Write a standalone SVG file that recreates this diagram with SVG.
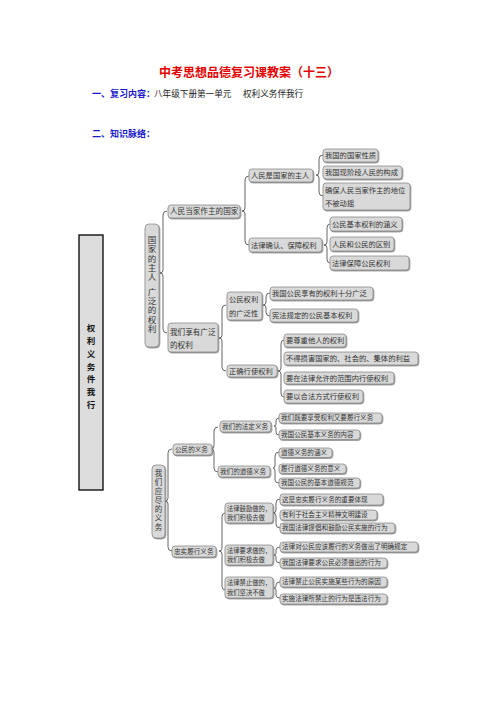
<svg xmlns="http://www.w3.org/2000/svg" width="496" height="702" viewBox="0 0 496 702">
<style>
text{font-family:"Noto Sans CJK SC","Noto Sans CJK TC",sans-serif;fill:#333}
.title{font-size:12px;font-weight:bold;fill:#e30000}
.hd{font-size:9px;font-weight:bold;fill:#1a1acc}
.body{font-size:8.6px;fill:#222}
.n rect{fill:#d9d9d9;stroke:#8c8c8c;stroke-width:0.8;filter:url(#sh)}
.s1 text{font-size:7.3px}
.s2 text{font-size:6.6px}
.vt{writing-mode:vertical-rl;text-orientation:upright}
.br{fill:none;stroke:#555;stroke-width:0.9}
#root rect{fill:#dcdcdc;stroke:#000;stroke-width:1.3}
#root text{font-size:8.5px;font-weight:bold;fill:#111}
</style>
<defs>
<filter id="sh" x="-20%" y="-20%" width="140%" height="160%">
<feDropShadow dx="0.8" dy="1" stdDeviation="0.5" flood-color="#777" flood-opacity="0.8"/>
</filter>
</defs>
<rect width="496" height="702" fill="#fff"/>
<text class="title" x="249" y="77" text-anchor="middle">中考思想品德复习课教案（十三）</text>
<text class="hd" x="92" y="97">一、复习内容：</text>
<text class="body" y="97"><tspan x="154">八年级下册第一单元</tspan><tspan x="243">权利义务伴我行</tspan></text>
<text class="hd" x="92" y="137">二、知识脉络：</text>

<g id="root">
<rect x="79" y="235" width="24" height="255"/>
<text class="vt" x="91" y="323.8" style="letter-spacing:4.3px">权利义务件我行</text>
</g>

<g id="connectors">
<path class="br" d="M167 211 Q163 211 163 215 L163 270 Q163 273 160 273 Q163 273 163 276 L163 329 Q163 333 167 333"/>
<path class="br" d="M249 176 Q245 176 245 180 L245 208 Q245 211 242 211 Q245 211 245 214 L245 241 Q245 245 249 245"/>
<path class="br" d="M323 155 Q319 155 319 159 L319 172 Q319 175 316 175 Q319 175 319 178 L319 192 Q319 196 323 196"/>
<path class="br" d="M330 224 Q327 224 327 228 L327 242 Q327 245 324 245 Q327 245 327 248 L327 259 Q327 263 330 263"/>
<path class="br" d="M226 305 Q222 305 222 309 L222 335 Q222 338 219 338 Q222 338 222 341 L222 367 Q222 371 226 371"/>
<path class="br" d="M270 293 Q266 293 266 297 L266 302 Q266 305 263 305 Q266 305 266 308 L266 312 Q266 316 270 316"/>
<path class="br" d="M284 340 Q281 340 281 344 L281 368 Q281 371 278 371 Q281 371 281 374 L281 393 Q281 397 284 397"/>
<path class="br" d="M172 449 Q168 449 168 453 L168 498 Q168 501 165 501 Q168 501 168 504 L168 547 Q168 551 172 551"/>
<path class="br" d="M218 427 Q214 427 214 431 L214 446 Q214 449 211 449 Q214 449 214 452 L214 468 Q214 472 218 472"/>
<path class="br" d="M279 418 Q276 418 276 421 L276 424 Q276 426 274 426 Q276 426 276 428 L276 432 Q276 435 279 435"/>
<path class="br" d="M279 452 Q275 452 275 456 L275 465 Q275 468 273 468 Q275 468 275 471 L275 480 Q275 483 279 483"/>
<path class="br" d="M225 513 Q222 513 222 517 L222 548 Q222 551 219 551 Q222 551 222 554 L222 586 Q222 590 225 590"/>
<path class="br" d="M280 499 Q276 499 276 503 L276 510 Q276 513 273 513 Q276 513 276 516 L276 524 Q276 528 280 528"/>
<path class="br" d="M280 547 Q276 547 276 550 L276 553 Q276 555 274 555 Q276 555 276 557 L276 560 Q276 563 280 563"/>
<path class="br" d="M280 582 Q276 582 276 585 L276 586 Q276 588 274 588 Q276 588 276 590 L276 595 Q276 598 280 598"/>
</g>

<g id="nA" class="n s1">
<rect x="145" y="224" width="14" height="123" rx="4"/>
<text class="vt" x="152" y="235.8" style="font-size:8.5px;letter-spacing:0.7px">国家的主人</text>
<text class="vt" x="152" y="287.5" style="font-size:8.5px;letter-spacing:0.7px">广泛的权利</text>
</g>
<g id="nA1" class="n s1"><rect x="168" y="205" width="72" height="13" rx="3"/><text x="170" y="214.3" style="font-size:7.6px">人民当家作主的国家</text></g>
<g id="nA2" class="n s1"><rect x="168" y="323" width="50" height="29" rx="3"/><text x="170" y="335" style="font-size:7.6px">我们享有广泛</text><text x="170" y="348" style="font-size:7.6px">的权利</text></g>
<g id="nA1a" class="n s1"><rect x="249" y="169" width="64" height="13" rx="3"/><text x="251" y="178.3">人民是国家的主人</text></g>
<g id="nA1b" class="n s1"><rect x="249" y="238" width="73" height="14" rx="3"/><text x="251" y="247.8">法律确认、保障权利</text></g>
<g id="nA1a1" class="n s1"><rect x="323" y="149" width="55" height="13" rx="3"/><text x="325" y="158.3">我国的国家性质</text></g>
<g id="nA1a2" class="n s1"><rect x="323" y="166" width="79" height="13" rx="3"/><text x="325" y="175.3">我国现阶段人民的构成</text></g>
<g id="nA1a3" class="n s1"><rect x="323" y="183" width="87" height="27" rx="3"/><text x="325" y="193">确保人民当家作主的地位</text><text x="325" y="206">不被动摇</text></g>
<g id="nA1b1" class="n s1"><rect x="330" y="217" width="72" height="14" rx="3"/><text x="332" y="226.8">公民基本权利的涵义</text></g>
<g id="nA1b2" class="n s1"><rect x="330" y="237" width="64" height="14" rx="3"/><text x="332" y="246.8">人民和公民的区别</text></g>
<g id="nA1b3" class="n s1"><rect x="330" y="256" width="79" height="14" rx="3"/><text x="332" y="265.8">法律保障公民权利</text></g>
<g id="nA2a" class="n s1"><rect x="227" y="292" width="35" height="28" rx="3"/><text x="229" y="302">公民权利</text><text x="229" y="316">的广泛性</text></g>
<g id="nA2b" class="n s1"><rect x="227" y="365" width="50" height="12" rx="3"/><text x="229" y="373.8">正确行使权利</text></g>
<g id="nA2a1" class="n s1"><rect x="270" y="287" width="103" height="13" rx="3"/><text x="272" y="296.3">我国公民享有的权利十分广泛</text></g>
<g id="nA2a2" class="n s1"><rect x="270" y="309" width="88" height="13" rx="3"/><text x="272" y="318.3">宪法规定的公民基本权利</text></g>
<g id="nA2b1" class="n s1"><rect x="284" y="334" width="62" height="13" rx="3"/><text x="286" y="343.3">要尊重他人的权利</text></g>
<g id="nA2b2" class="n s1"><rect x="284" y="352" width="134" height="13" rx="3"/><text x="286" y="361.3">不得损害国家的、社会的、集体的利益</text></g>
<g id="nA2b3" class="n s1"><rect x="284" y="372" width="110" height="12" rx="3"/><text x="286" y="380.8">要在法律允许的范围内行使权利</text></g>
<g id="nA2b4" class="n s1"><rect x="284" y="390" width="79" height="13" rx="3"/><text x="286" y="399.3">要以合法方式行使权利</text></g>

<g id="nB" class="n s2">
<rect x="152" y="465" width="13" height="73" rx="4"/>
<text class="vt" x="158.5" y="469.3" style="font-size:7.5px;letter-spacing:1.6px">我们应尽的义务</text>
</g>
<g id="nB1" class="n s2"><rect x="173" y="444" width="39" height="11" rx="3"/><text x="175" y="451.8">公民的义务</text></g>
<g id="nB2" class="n s2"><rect x="172" y="546" width="44" height="11" rx="3"/><text x="174" y="553.8">忠实履行义务</text></g>
<g id="nB1a" class="n s2"><rect x="220" y="421" width="51" height="11" rx="3"/><text x="222" y="428.8">我们的法定义务</text></g>
<g id="nB1b" class="n s2"><rect x="218" y="466" width="52" height="11" rx="3"/><text x="220" y="473.8">我们的道德义务</text></g>
<g id="nB1a1" class="n s2"><rect x="279" y="413" width="103" height="10" rx="3"/><text x="281" y="420.3">我们既要享受权利又要履行义务</text></g>
<g id="nB1a2" class="n s2"><rect x="279" y="430" width="81" height="9.5" rx="3"/><text x="281" y="437">我国公民基本义务的内容</text></g>
<g id="nB1b1" class="n s2"><rect x="279" y="448" width="53" height="9.5" rx="3"/><text x="281" y="455">道德义务的涵义</text></g>
<g id="nB1b2" class="n s2"><rect x="279" y="464" width="67" height="9.5" rx="3"/><text x="281" y="471">履行道德义务的意义</text></g>
<g id="nB1b3" class="n s2"><rect x="279" y="478" width="81" height="10" rx="3"/><text x="281" y="485.3">我国公民的基本道德规范</text></g>
<g id="nB2a" class="n s2"><rect x="225" y="503" width="48" height="20" rx="3"/><text x="227" y="510.5" style="font-size:6.3px">法律鼓励做的，</text><text x="227" y="520" style="font-size:6.3px">我们积极去做</text></g>
<g id="nB2b" class="n s2"><rect x="225" y="545" width="48" height="20" rx="3"/><text x="227" y="552.5" style="font-size:6.3px">法律要求做的，</text><text x="227" y="562" style="font-size:6.3px">我们积极去做</text></g>
<g id="nB2c" class="n s2"><rect x="225" y="577" width="48" height="21" rx="3"/><text x="227" y="584.5" style="font-size:6.3px">法律禁止做的，</text><text x="227" y="595" style="font-size:6.3px">我们坚决不做</text></g>
<g id="nB2a1" class="n s2"><rect x="280" y="494" width="103" height="11" rx="3"/><text x="282" y="501.8">这是忠实履行义务的重要体现</text></g>
<g id="nB2a2" class="n s2"><rect x="280" y="510" width="97" height="10" rx="3"/><text x="282" y="517.3">有利于社会主义精神文明建设</text></g>
<g id="nB2a3" class="n s2"><rect x="280" y="523" width="115" height="10" rx="3"/><text x="282" y="530.3">我国法律提倡和鼓励公民实施的行为</text></g>
<g id="nB2b1" class="n s2"><rect x="280" y="542" width="138" height="10" rx="3"/><text x="282" y="549.3">法律对公民应该履行的义务做出了明确规定</text></g>
<g id="nB2b2" class="n s2"><rect x="280" y="558" width="107" height="10" rx="3"/><text x="282" y="565.3">我国法律要求公民必须做出的行为</text></g>
<g id="nB2c1" class="n s2"><rect x="280" y="577" width="107" height="10" rx="3"/><text x="282" y="584.3">法律禁止公民实施某些行为的原因</text></g>
<g id="nB2c2" class="n s2"><rect x="280" y="594" width="107" height="10" rx="3"/><text x="282" y="601.3">实施法律所禁止的行为是违法行为</text></g>
</svg>
